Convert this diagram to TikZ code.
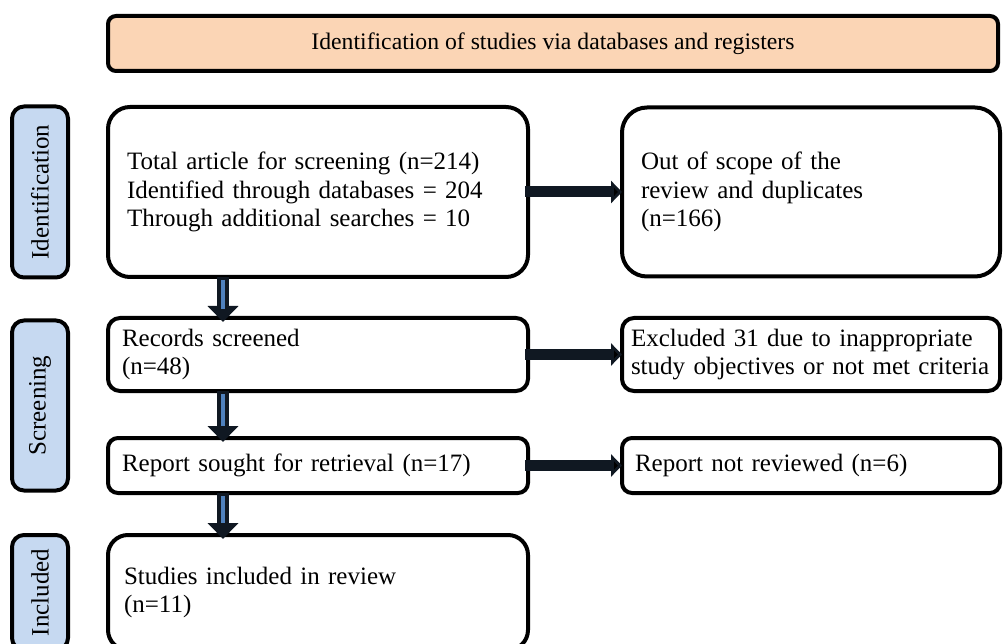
\documentclass[tikz,border=0pt]{standalone}
\usepackage{fontspec}
\setmainfont{Liberation Serif}
\usepackage{tikz}
\usetikzlibrary{arrows.meta, calc, positioning}
\definecolor{pfpeach}{RGB}{251,213,181}
\definecolor{pfblue}{RGB}{198,217,241}
\definecolor{pfnavy}{RGB}{16,24,34}
\definecolor{pfstripe}{RGB}{79,129,189}
\tikzset{
  pfbox/.style={rectangle, draw, line width=4pt, outer sep=0pt, rounded corners=12pt, inner xsep=14pt, inner ysep=0pt, align=left, text width=392pt},
  pfout/.style={pfbox, inner xsep=13pt, text width=352pt},
  pfside/.style={rectangle, draw, line width=4pt, outer sep=0pt, rounded corners=12pt, fill=pfblue, rotate=90, minimum height=56pt, inner sep=0pt},
  pfhead/.style={rectangle, draw, line width=4pt, outer sep=0pt, rounded corners=8pt, fill=pfpeach, minimum width=890pt, minimum height=55pt},
  pfdown/.style={draw=pfnavy, line width=12pt, -{Triangle[length=16pt, width=30pt]}, shorten >=-4pt},
  pfshaft/.style={draw=pfstripe, line width=4pt},
  pfright/.style={draw=pfnavy, line width=11pt, -{Triangle[length=11pt, width=22pt]}, shorten <=-3pt},
}
\begin{document}
\begin{tikzpicture}[x=1pt, y=-1pt, font=\fontsize{25}{28.5}\selectfont]
  \useasboundingbox (0,0) rectangle (1004,644);

  % Header.
  \node[pfhead, font=\fontsize{23.7}{28}\selectfont] (head) at (553,43.5) {Identification of studies via databases and registers};

  % Main column.
  \node[pfbox, minimum height=170pt, rounded corners=22pt, inner xsep=19pt, text width=382pt] (total) at (318,192) {Total article for screening (n=214)\\ Identified through databases = 204\\ Through additional searches = 10};
  \node[pfbox, minimum height=73pt, below=41pt of total] (screened) {Records screened\\ (n=48)};
  \node[pfbox, minimum height=55pt, below=47pt of screened, rounded corners=10pt] (sought) {Report sought for retrieval (n=17)};
  \node[pfbox, minimum height=115pt, below=42pt of sought, rounded corners=20pt, inner xsep=16pt, text width=388pt] (included) {Studies included in review\\ (n=11)};

  % Excluded records.
  \node[pfout, minimum height=169pt, rounded corners=25pt, inner xsep=19pt, text width=340pt, right=94pt of total] (scope) {Out of scope of the\\ review and duplicates\\ (n=166)};
  \node[pfout, minimum height=73pt, inner xsep=9pt, text width=360pt, right=94pt of screened] (excluded) {Excluded 31 due to inappropriate\\ study objectives or not met criteria};
  \node[pfout, minimum height=55pt, right=94pt of sought, rounded corners=10pt] (notrev) {Report not reviewed (n=6)};

  % Stage labels.
  \node[pfside, minimum width=171pt] (idstage) at ($(total.west)+(-68,0)$) {Identification};
  \node[pfside, minimum width=170pt] (scrstage) at ($(screened.north west)!0.5!(sought.south west)+(-68,0)$) {Screening};
  \node[pfside, minimum width=115pt] (incstage) at ($(included.west)+(-68,0)$) {Included};

  % Arrows.
  \coordinate (ax) at (223,0);
  \draw[pfdown] (total.south -| ax) -- (screened.north -| ax);
  \draw[pfdown] (screened.south -| ax) -- (sought.north -| ax);
  \draw[pfdown] (sought.south -| ax) -- (included.north -| ax);
  \draw[pfshaft] ($(total.south -| ax)+(0,3)$) -- ($(screened.north -| ax)+(0,-9)$);
  \draw[pfshaft] ($(screened.south -| ax)+(0,3)$) -- ($(sought.north -| ax)+(0,-12)$);
  \draw[pfshaft] ($(sought.south -| ax)+(0,3)$) -- ($(included.north -| ax)+(0,-12)$);

  \path[pfright]
    (total) edge (scope)
    (screened) edge (excluded)
    (sought) edge (notrev);
\end{tikzpicture}
\end{document}
